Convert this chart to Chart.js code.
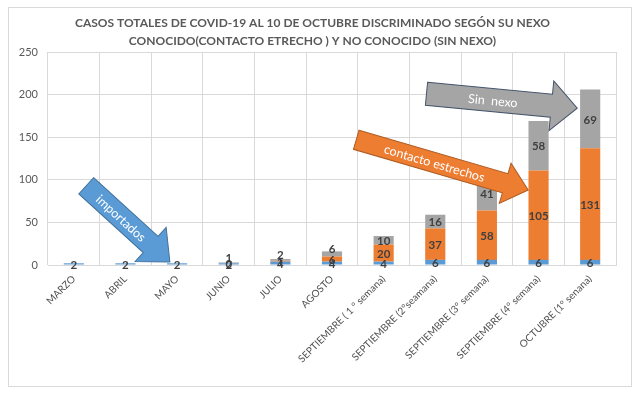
<!DOCTYPE html>
<html>
<head>
<meta charset="utf-8">
<script src="https://cdn.jsdelivr.net/npm/chart.js@4.4.1/dist/chart.umd.min.js"></script>
<style>
  html, body { margin:0; padding:0; background:#fff; }
  #frame { position:absolute; left:8px; top:7px; width:622px; height:378px; border:1px solid #d9d9d9; }
  canvas { display:block; }
</style>
</head>
<body>
<div id="frame"><canvas id="chart" width="622" height="378"></canvas></div>
<script>
// ---------------------------
// DATA
// ---------------------------
const categories = ["MARZO","ABRIL","MAYO","JUNIO","JULIO","AGOSTO",
  "SEPTIEMBRE ( 1 ° semana)","SEPTIEMBRE (2°seamana)","SEPTIEMBRE (3° semana)",
  "SEPTIEMBRE (4° semana)","OCTUBRE (1° senana)"];
const importados = [2,2,2,2,4,4,4,6,6,6,6];
const contacto   = [null,null,null,0,1,6,20,37,58,105,131];
const sinNexo    = [null,null,null,1,2,6,10,16,41,58,69];
const yTicks     = [0,50,100,150,200,250];

const TITLE = ["CASOS TOTALES DE COVID-19 AL 10 DE OCTUBRE DISCRIMINADO SEGÓN SU NEXO",
               "CONOCIDO(CONTACTO ETRECHO ) Y NO CONOCIDO (SIN NEXO)"];

// arrows drawn over the chart, ends given in (category index, value)
const ARROWS = [
  { text:"importados", from:[0.24,93], to:[1.86,3.5], shaft:22, head:46, headLen:26,
    fill:"#5B9BD5", stroke:"#41719C" },
  { text:"contacto estrechos", from:[5.47,147], to:[8.8,88], shaft:20, head:42, headLen:24,
    fill:"#ED7D31", stroke:"#AE5A21" },
  { text:"Sin  nexo", from:[6.83,201], to:[9.75,184], shaft:23, head:50, headLen:26,
    fill:"#A5A5A5", stroke:"#44546A" },
];

const FONT = "Lato, 'Open Sans', sans-serif";
const GRID = "#d9d9d9";
const TXT = "#595959";

// ---------------------------
// PLUGINS
// ---------------------------
const valueLabels = {
  id:"valueLabels",
  afterDatasetsDraw(chart){
    const ctx = chart.ctx;
    const last = chart.data.datasets.length - 1;
    ctx.save();
    ctx.font = "bold 11.5px " + FONT;
    ctx.fillStyle = "#404040";
    ctx.textAlign = "center";
    ctx.textBaseline = "middle";
    chart.data.datasets.forEach((ds,di)=>{
      chart.getDatasetMeta(di).data.forEach((bar,i)=>{
        const v = ds.data[i];
        if(v === null) return;
        let y = (bar.y + bar.base)/2 + 1;
        // thin top segment: lift its label like the spreadsheet did
        if(di === last && Math.abs(bar.base - bar.y) < 8) y -= 6;
        ctx.fillText(String(v), bar.x, y);
      });
    });
    ctx.restore();
  }
};

const arrows = {
  id:"arrows",
  afterDraw(chart){
    const ctx = chart.ctx;
    const xs = chart.scales.x, ys = chart.scales.y;
    ARROWS.forEach(a=>{
      const x0 = xs.getPixelForValue(a.from[0]), y0 = ys.getPixelForValue(a.from[1]);
      const x1 = xs.getPixelForValue(a.to[0]),   y1 = ys.getPixelForValue(a.to[1]);
      const L = Math.hypot(x1-x0, y1-y0);
      const ang = Math.atan2(y1-y0, x1-x0);
      const s = a.shaft/2, h = a.head/2, b = L - a.headLen;
      ctx.save();
      ctx.translate(x0, y0);
      ctx.rotate(ang);
      ctx.beginPath();
      ctx.moveTo(0,-s); ctx.lineTo(b,-s); ctx.lineTo(b,-h); ctx.lineTo(L,0);
      ctx.lineTo(b,h); ctx.lineTo(b,s); ctx.lineTo(0,s); ctx.closePath();
      ctx.fillStyle = a.fill; ctx.fill();
      ctx.lineWidth = 1; ctx.strokeStyle = a.stroke; ctx.stroke();
      ctx.fillStyle = "#fff";
      ctx.font = "12.5px " + FONT;
      ctx.textAlign = "center"; ctx.textBaseline = "middle";
      ctx.fillText(a.text, b/2 + 4, 1);
      ctx.restore();
    });
  }
};

// ---------------------------
// CHART
// ---------------------------
const bar = (label, data, color)=>({ label, data, backgroundColor:color,
  categoryPercentage:1, barPercentage:0.39 });

new Chart(document.getElementById("chart"), {
  type:"bar",
  data:{
    labels: categories,
    datasets:[
      bar("Importados", importados, "#5B9BD5"),
      bar("Contacto estrecho", contacto, "#ED7D31"),
      bar("Sin nexo", sinNexo, "#A5A5A5"),
    ]
  },
  options:{
    responsive:false,
    animation:false,
    layout:{ padding:{ left:0, right:15, top:0, bottom:0 } },
    plugins:{
      legend:{ display:false },
      tooltip:{ enabled:false },
      title:{ display:true, text:TITLE, color:TXT,
        font:{ family:FONT, size:12, weight:"bold", lineHeight:1.5 },
        padding:{ top:6, bottom:2 } }
    },
    scales:{
      x:{ stacked:true,
        grid:{ color:GRID, drawTicks:false, offset:true },
        border:{ color:GRID },
        ticks:{ color:"#505050", font:{ family:FONT, size:10 }, minRotation:45, maxRotation:45,
          autoSkip:false, padding:8 },
        afterFit(s){ s.height = 121; } },
      y:{ stacked:true, min:0, max:250,
        afterBuildTicks(s){ s.ticks = yTicks.map(v=>({value:v})); },
        grid:{ color:GRID, drawTicks:false },
        border:{ display:false },
        ticks:{ color:TXT, font:{ family:FONT, size:11 }, padding:10 },
        afterFit(s){ s.width = 39; } }
    }
  },
  plugins:[valueLabels, arrows]
});
</script>
</body>
</html>
